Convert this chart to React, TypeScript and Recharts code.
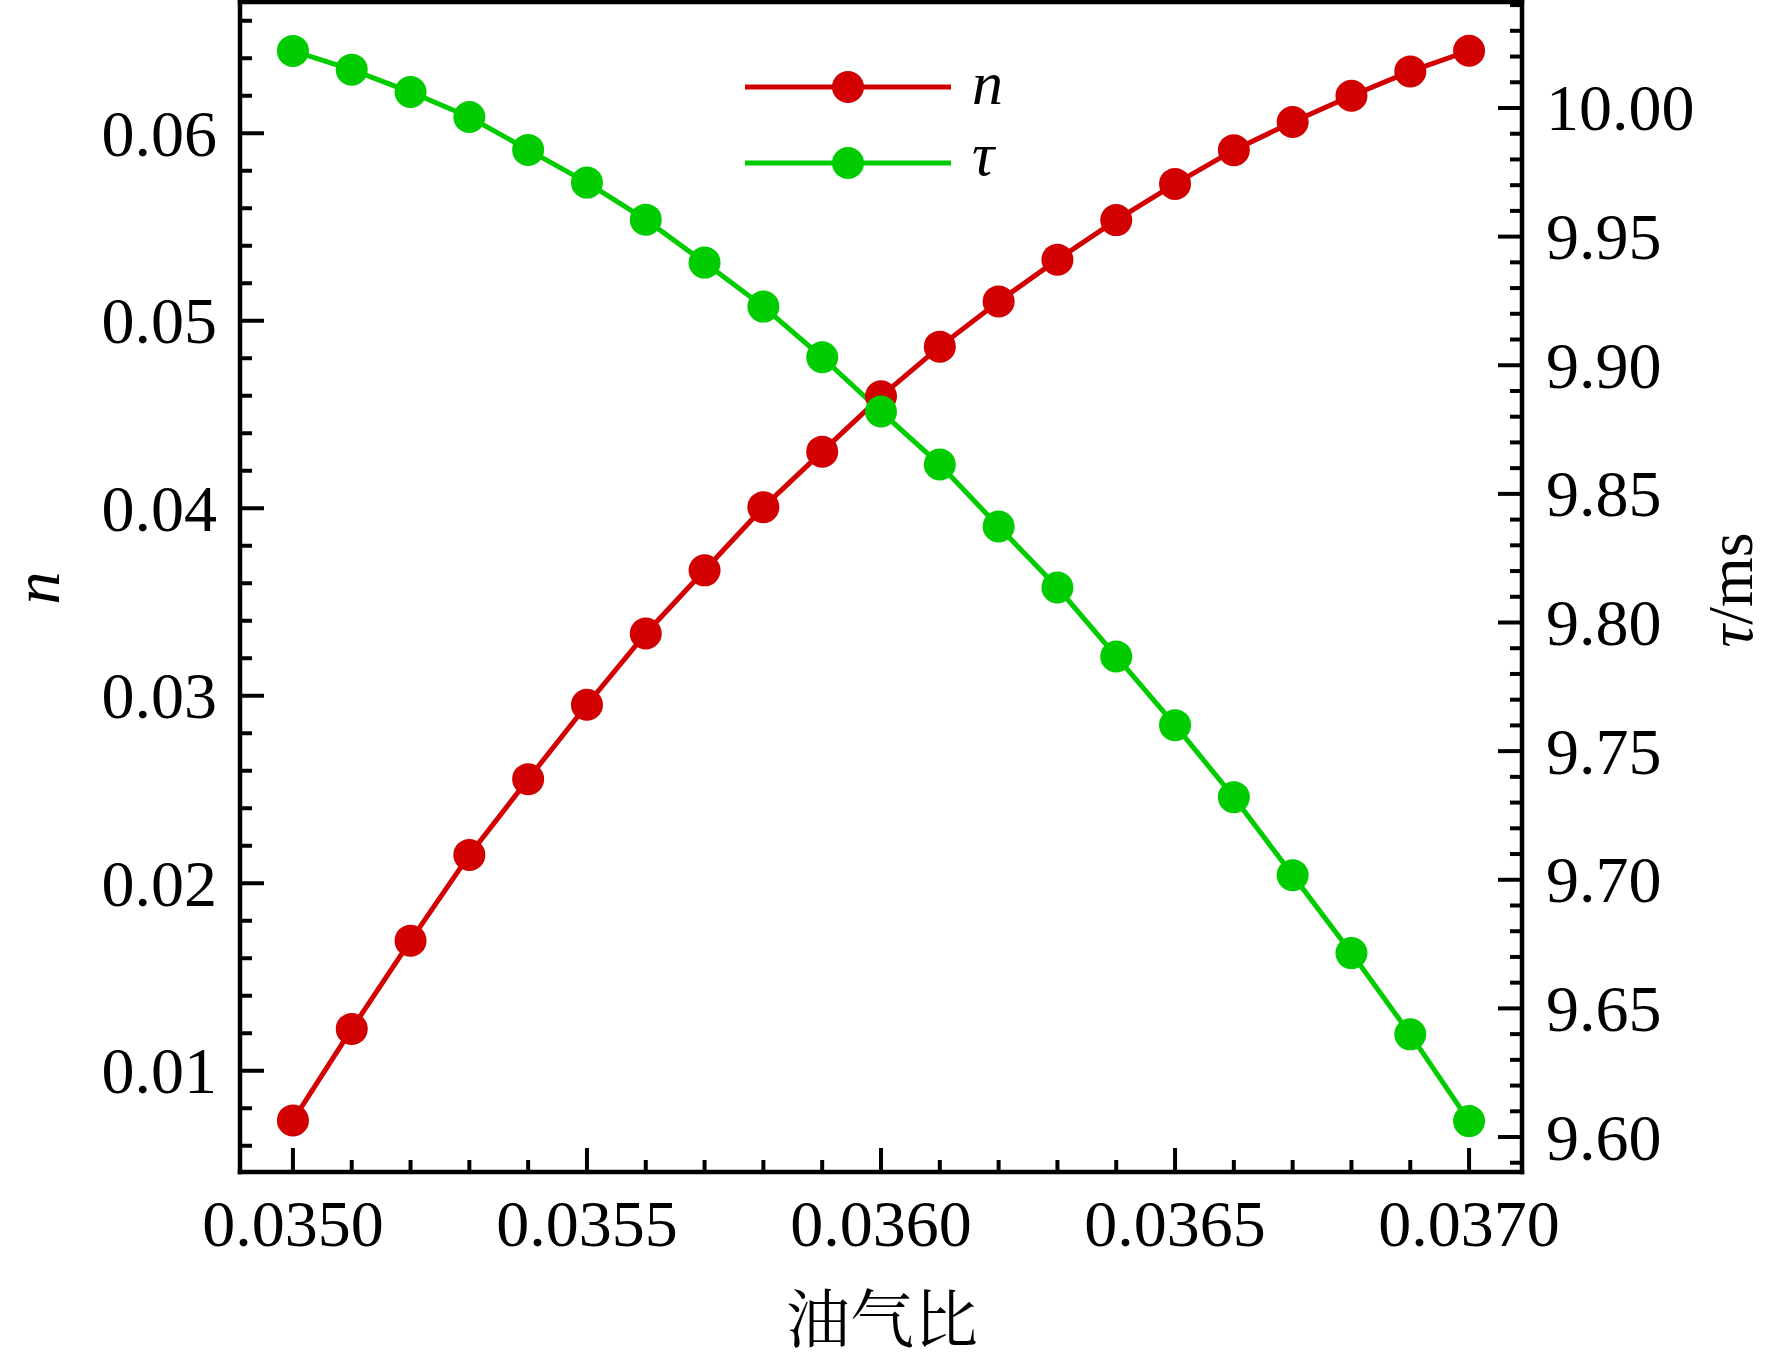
import React from 'react';
import { LineChart, Line, XAxis, YAxis, Legend } from 'recharts';

// ---- data ----
const ratio = [
  0.035, 0.0351, 0.0352, 0.0353, 0.0354, 0.0355, 0.0356, 0.0357, 0.0358, 0.0359, 0.036,
  0.0361, 0.0362, 0.0363, 0.0364, 0.0365, 0.0366, 0.0367, 0.0368, 0.0369, 0.037,
];
const nValues = [
  0.00735, 0.01223, 0.01694, 0.02151, 0.02555, 0.02952, 0.03332, 0.03669, 0.04006, 0.04302,
  0.04597, 0.04862, 0.05103, 0.05326, 0.05537, 0.0573, 0.0591, 0.0606, 0.062, 0.0633, 0.0644,
];
const tauValues = [
  10.0222, 10.0149, 10.0062, 9.9965, 9.9837, 9.971, 9.9566, 9.9399, 9.9228, 9.9031, 9.882,
  9.8614, 9.8373, 9.8136, 9.7868, 9.7601, 9.7321, 9.7018, 9.6715, 9.6399, 9.6062,
];

// ---- ticks ----
const xTicks = [
  0.035, 0.0351, 0.0352, 0.0353, 0.0354, 0.0355, 0.0356, 0.0357, 0.0358, 0.0359, 0.036,
  0.0361, 0.0362, 0.0363, 0.0364, 0.0365, 0.0366, 0.0367, 0.0368, 0.0369, 0.037,
];
const xMajor = [0.035, 0.0355, 0.036, 0.0365, 0.037];
const leftTicks = [
  0.006, 0.008, 0.01, 0.012, 0.014, 0.016, 0.018, 0.02, 0.022, 0.024, 0.026, 0.028, 0.03,
  0.032, 0.034, 0.036, 0.038, 0.04, 0.042, 0.044, 0.046, 0.048, 0.05, 0.052, 0.054, 0.056,
  0.058, 0.06, 0.062, 0.064, 0.066,
];
const leftMajor = [0.01, 0.02, 0.03, 0.04, 0.05, 0.06];
const rightTicks = [
  9.59, 9.6, 9.61, 9.62, 9.63, 9.64, 9.65, 9.66, 9.67, 9.68, 9.69, 9.7, 9.71, 9.72, 9.73,
  9.74, 9.75, 9.76, 9.77, 9.78, 9.79, 9.8, 9.81, 9.82, 9.83, 9.84, 9.85, 9.86, 9.87, 9.88,
  9.89, 9.9, 9.91, 9.92, 9.93, 9.94, 9.95, 9.96, 9.97, 9.98, 9.99, 10.0, 10.01, 10.02, 10.03,
  10.04,
];
const rightMajor = [9.6, 9.65, 9.7, 9.75, 9.8, 9.85, 9.9, 9.95, 10.0];

const data = ratio.map((x, i) => ({ x, n: nValues[i], tau: tauValues[i] }));

const RED = '#d20000';
const GREEN = '#00cc00';
const SERIF = '"Liberation Serif", "Times New Roman", serif';
const CJK = '"Noto Serif CJK SC", "Noto Sans CJK SC", sans-serif';
const FS = 66;
const MAJOR_LEN = 24;
const MINOR_LEN = 12;
const TICK_W = 4;

const isMajor = (v: number, majors: number[]) => majors.some((m) => Math.abs(m - v) < 1e-9);

const makeTick =
  (orient: 'left' | 'right' | 'bottom', majors: number[], digits: number) =>
  (props: any) => {
    const { x, y, payload } = props;
    const v = payload.value as number;
    const major = isMajor(v, majors);
    const len = major ? MAJOR_LEN : MINOR_LEN;
    let line;
    let label = null;
    if (orient === 'left') {
      line = <line x1={x} y1={y} x2={x + len} y2={y} stroke="#000" strokeWidth={TICK_W} />;
      if (major)
        label = (
          <text x={x - 23} y={y} textAnchor="end" dominantBaseline="central" fontFamily={SERIF} fontSize={FS} fill="#000">
            {v.toFixed(digits)}
          </text>
        );
    } else if (orient === 'right') {
      line = <line x1={x} y1={y} x2={x - len} y2={y} stroke="#000" strokeWidth={TICK_W} />;
      if (major)
        label = (
          <text x={x + 24} y={y} textAnchor="start" dominantBaseline="central" fontFamily={SERIF} fontSize={FS} fill="#000">
            {v.toFixed(digits)}
          </text>
        );
    } else {
      line = <line x1={x} y1={y} x2={x} y2={y - len} stroke="#000" strokeWidth={TICK_W} />;
      if (major)
        label = (
          <text x={x} y={y + 74} textAnchor="middle" fontFamily={SERIF} fontSize={FS} fill="#000">
            {v.toFixed(digits)}
          </text>
        );
    }
    return (
      <g>
        {line}
        {label}
      </g>
    );
  };

const axisLine = { stroke: '#000', strokeWidth: 4.5, strokeLinecap: 'square' as const };

const renderLegend = (props: any) => {
  const payload = props.payload || [];
  const rows = [
    { y: 87, textY: 104 },
    { y: 163, textY: 175 },
  ];
  return (
    <svg width={1772} height={1362} style={{ position: 'absolute', left: 0, top: 0, overflow: 'visible' }}>
      {payload.slice(0, 2).map((entry: any, i: number) => (
        <g key={i}>
          <line x1={745} y1={rows[i].y} x2={951} y2={rows[i].y} stroke={entry.color} strokeWidth={5} />
          <circle cx={848} cy={rows[i].y} r={16} fill={entry.color} />
          <text x={972} y={rows[i].textY} fontFamily={SERIF} fontStyle="italic" fontSize={62} fill="#000">
            {entry.value}
          </text>
        </g>
      ))}
    </svg>
  );
};

const xLabel = () => (
  <text x={882} y={1314} textAnchor="middle" dominantBaseline="central" fontFamily={CJK} fontSize={64} fill="#000">
    油气比
  </text>
);

const leftLabel = () => (
  <text
    x={59}
    y={588}
    transform="rotate(-90 59 588)"
    textAnchor="middle"
    fontFamily={SERIF}
    fontStyle="italic"
    fontSize={66}
    fill="#000"
  >
    n
  </text>
);

const rightLabel = () => (
  <text
    x={1752}
    y={590}
    transform="rotate(-90 1752 590)"
    textAnchor="middle"
    fontFamily={SERIF}
    fontSize={64}
    fill="#000"
  >
    <tspan fontStyle="italic">τ</tspan>/ms
  </text>
);

export default function App() {
  return (
    <div style={{ position: 'absolute', left: 0, top: 0, width: 1772, height: 1362, background: '#fff' }}>
      <LineChart width={1772} height={1362} data={data} margin={{ top: 0, right: 0, bottom: 0, left: 0 }}>
        <XAxis
          xAxisId="top"
          orientation="top"
          dataKey="x"
          type="number"
          domain={[0.03491, 0.03709]}
          allowDataOverflow
          height={2}
          tick={false}
          tickLine={false}
          axisLine={axisLine}
        />
        <XAxis
          dataKey="x"
          type="number"
          domain={[0.03491, 0.03709]}
          allowDataOverflow
          ticks={xTicks}
          interval={0}
          height={190}
          tickSize={0}
          tickMargin={0}
          tickLine={false}
          axisLine={axisLine}
          tick={makeTick('bottom', xMajor, 4)}
          label={xLabel}
        />
        <YAxis
          yAxisId="left"
          type="number"
          domain={[0.0046, 0.067]}
          allowDataOverflow
          ticks={leftTicks}
          interval={0}
          width={240}
          tickSize={0}
          tickMargin={0}
          tickLine={false}
          axisLine={axisLine}
          tick={makeTick('left', leftMajor, 2)}
          label={leftLabel}
        />
        <YAxis
          yAxisId="right"
          orientation="right"
          type="number"
          domain={[9.5864, 10.0412]}
          allowDataOverflow
          ticks={rightTicks}
          interval={0}
          width={250}
          tickSize={0}
          tickMargin={0}
          tickLine={false}
          axisLine={axisLine}
          tick={makeTick('right', rightMajor, 2)}
          label={rightLabel}
        />
        <Legend
          content={renderLegend}
          layout="horizontal"
          verticalAlign="middle"
          align="center"
          wrapperStyle={{ position: 'absolute', left: 0, top: 0, width: 1772, height: 1362, pointerEvents: 'none' }}
        />
        <Line
          yAxisId="left"
          type="linear"
          dataKey="n"
          name="n"
          stroke={RED}
          strokeWidth={5}
          dot={{ r: 16, fill: RED, stroke: RED, strokeWidth: 0 }}
          activeDot={false}
          isAnimationActive={false}
        />
        <Line
          yAxisId="right"
          type="linear"
          dataKey="tau"
          name="τ"
          stroke={GREEN}
          strokeWidth={5}
          dot={{ r: 16, fill: GREEN, stroke: GREEN, strokeWidth: 0 }}
          activeDot={false}
          isAnimationActive={false}
        />
      </LineChart>
    </div>
  );
}
